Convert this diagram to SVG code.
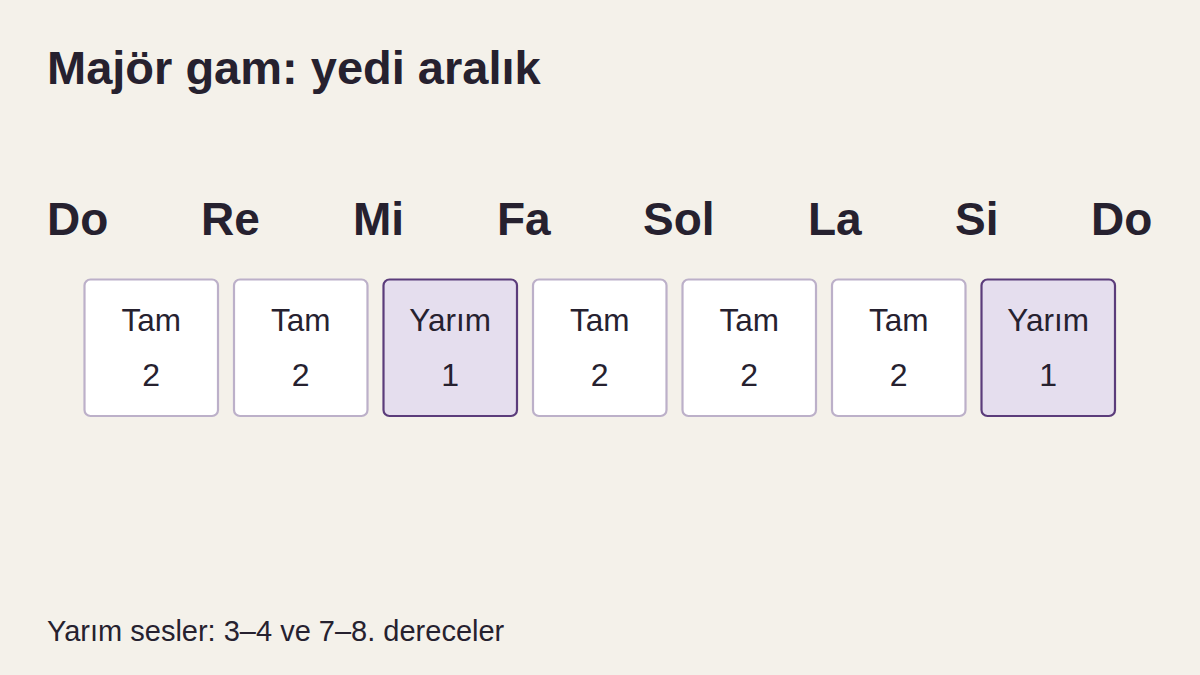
<svg xmlns="http://www.w3.org/2000/svg" width="1200" height="675" viewBox="0 0 1200 675">
<style>
text{font-family:"Liberation Sans",Arial,Helvetica,sans-serif;fill:#26212f}
.title{font-size:47px;font-weight:bold}
.note{font-size:46px;font-weight:bold}
.box{fill:#ffffff;stroke:#bcb0c9;stroke-width:2.2}
.half{fill:#e5deee;stroke:#5b3c7b;stroke-width:2.2}
.lbl{font-size:31.5px;text-anchor:middle}
.num{font-size:32px;text-anchor:middle}
.foot{font-size:29px}
</style>
<rect width="1200" height="675" fill="#f4f1ea"/>
<text class="title" x="47" y="84">Majör gam: yedi aralık</text>
<g id="notes">
<text class="note" x="47" y="235">Do</text>
<text class="note" x="201" y="235">Re</text>
<text class="note" x="353" y="235">Mi</text>
<text class="note" x="497" y="235">Fa</text>
<text class="note" x="643" y="235">Sol</text>
<text class="note" x="808" y="235">La</text>
<text class="note" x="955" y="235">Si</text>
<text class="note" x="1091" y="235">Do</text>
</g>
<g id="connectors"></g>
<g id="step1"><rect class="box" x="84.5" y="279.5" width="133.5" height="136.5" rx="6"/><text class="lbl" x="151.2" y="330.5">Tam</text><text class="num" x="151.2" y="386">2</text></g>
<g id="step2"><rect class="box" x="234" y="279.5" width="133.5" height="136.5" rx="6"/><text class="lbl" x="300.7" y="330.5">Tam</text><text class="num" x="300.7" y="386">2</text></g>
<g id="step3"><rect class="half" x="383.5" y="279.5" width="133.5" height="136.5" rx="6"/><text class="lbl" x="450.2" y="330.5">Yarım</text><text class="num" x="450.2" y="386">1</text></g>
<g id="step4"><rect class="box" x="533" y="279.5" width="133.5" height="136.5" rx="6"/><text class="lbl" x="599.7" y="330.5">Tam</text><text class="num" x="599.7" y="386">2</text></g>
<g id="step5"><rect class="box" x="682.5" y="279.5" width="133.5" height="136.5" rx="6"/><text class="lbl" x="749.2" y="330.5">Tam</text><text class="num" x="749.2" y="386">2</text></g>
<g id="step6"><rect class="box" x="832" y="279.5" width="133.5" height="136.5" rx="6"/><text class="lbl" x="898.7" y="330.5">Tam</text><text class="num" x="898.7" y="386">2</text></g>
<g id="step7"><rect class="half" x="981.5" y="279.5" width="133.5" height="136.5" rx="6"/><text class="lbl" x="1048.2" y="330.5">Yarım</text><text class="num" x="1048.2" y="386">1</text></g>
<text class="foot" x="47" y="641">Yarım sesler: 3–4 ve 7–8. dereceler</text>
</svg>
